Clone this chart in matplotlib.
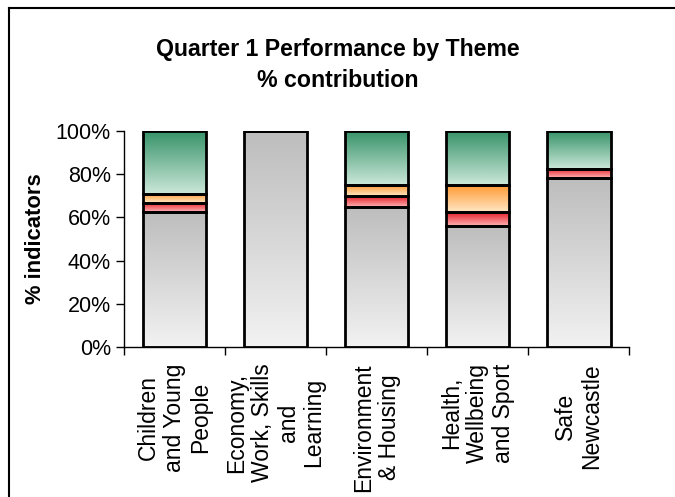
import numpy as np
import matplotlib
matplotlib.use('Agg')
import matplotlib.pyplot as plt
from matplotlib.colors import LinearSegmentedColormap
from matplotlib.lines import Line2D

plt.rcParams['font.family'] = ['Liberation Sans', 'DejaVu Sans']

themes = ['Children\nand Young\nPeople', 'Economy,\nWork, Skills\nand\nLearning',
          'Environment\n& Housing', 'Health,\nWellbeing\nand Sport', 'Safe\nNewcastle']
# share of indicators (%) per status, bottom to top
grey = [62.5, 100.0, 65.0, 56.25, 78.3]
red = [4.2, 0.0, 5.0, 6.25, 4.3]
amber = [4.2, 0.0, 5.0, 12.5, 0.0]
green = [29.1, 0.0, 25.0, 25.0, 17.4]

# gradient (top colour, bottom colour) for each series
grads = [('#bdbdbd', '#f2f2f2'), ('#e41d28', '#ffb3b3'),
         ('#ff9a33', '#ffe6c4'), ('#37936a', '#cce8d9')]

fig = plt.figure(figsize=(6.75, 4.97), dpi=100)
ax = fig.add_axes([0.1837, 0.3018, 0.7485, 0.4346])

x = np.arange(len(themes))
bottom = np.zeros(len(themes))
grad = np.linspace(0, 1, 256).reshape(-1, 1)
for vals, (top_c, bot_c) in zip([grey, red, amber, green], grads):
    vals = np.array(vals)
    cmap = LinearSegmentedColormap.from_list('g', [top_c, bot_c])
    bars = ax.bar(x, vals, width=0.63, bottom=bottom, color='none',
                  edgecolor='black', linewidth=2.0, zorder=3)
    for b, v in zip(bars, vals):
        if v <= 0:
            continue
        x0, y0 = b.get_x(), b.get_y()
        im = ax.imshow(grad, cmap=cmap, aspect='auto', zorder=2,
                       extent=[x0, x0 + b.get_width(), y0, y0 + b.get_height()],
                       origin='upper')
        im.set_clip_path(b)
    bottom += vals

ax.set_xlim(-0.5, len(themes) - 0.5)
ax.set_ylim(0, 100)
ax.set_yticks(range(0, 101, 20))
ax.set_yticklabels(['%d%%' % v for v in range(0, 101, 20)], fontsize=15.5)
ax.set_xticks(np.arange(-0.5, len(themes)))
ax.set_xticklabels([])
ax.tick_params(axis='both', direction='out', length=6, width=1, color='black')
for i, t in enumerate(themes):
    ax.text(i, -7.5, t, rotation=90, ha='center', va='top', multialignment='center',
            fontsize=16.5, linespacing=1.15)
for s in ['top', 'right']:
    ax.spines[s].set_visible(False)
ax.spines['left'].set_linewidth(1)
ax.spines['bottom'].set_linewidth(1)
ax.set_ylabel('% indicators', fontsize=15.8, fontweight='bold', labelpad=7)

fig.text(0.5, 0.869, 'Quarter 1 Performance by Theme\n% contribution', ha='center',
         va='center', fontsize=16.7, fontweight='bold', linespacing=1.45)

# outer chart frame
fig.add_artist(Line2D([9 / 675, 9 / 675], [0, 1 - 8 / 497], color='black', lw=1.5))
fig.add_artist(Line2D([9 / 675, 1], [1 - 8 / 497, 1 - 8 / 497], color='black', lw=1.5))

fig.savefig('out.png', dpi=100)
